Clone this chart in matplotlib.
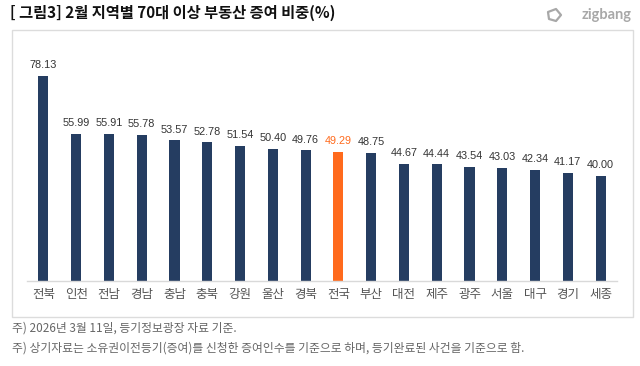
import matplotlib
matplotlib.use("Agg")
import matplotlib.pyplot as plt
from matplotlib.patches import Rectangle, Polygon

plt.rcParams['font.family'] = ['Noto Sans CJK KR', 'DejaVu Sans']

regions = ['전북', '인천', '전남', '경남', '충남', '충북', '강원', '울산', '경북',
           '전국', '부산', '대전', '제주', '광주', '서울', '대구', '경기', '세종']
shares = [78.13, 55.99, 55.91, 55.78, 53.57, 52.78, 51.54, 50.40, 49.76,
          49.29, 48.75, 44.67, 44.44, 43.54, 43.03, 42.34, 41.17, 40.00]
highlight = '전국'

navy = '#253d61'
orange = '#ff6a1c'

W, H = 640, 366
fig = plt.figure(figsize=(W / 100, H / 100), dpi=100)

# outer frame of the chart
fig.patches.append(Rectangle((12 / W, 1 - 317 / H), 621 / W, 287 / H,
                             transform=fig.transFigure, fill=False,
                             edgecolor='#dcdcdc', linewidth=1))

ax = fig.add_axes([27 / W, 85 / H, 590 / W, 241 / H])
colors = [orange if r == highlight else navy for r in regions]
bars = ax.bar(range(len(regions)), shares, width=0.31, color=colors)
ax.set_xlim(-0.5, len(regions) - 0.5)
ax.set_ylim(0, 241 / 2.625)

for i, (b, v) in enumerate(zip(bars, shares)):
    ax.text(b.get_x() + b.get_width() / 2, v + 2.2, f'{v:.2f}',
            ha='center', va='bottom', fontsize=7.8,
            family=['Liberation Sans', 'DejaVu Sans'],
            color=orange if regions[i] == highlight else '#333333')

ax.set_xticks(range(len(regions)))
ax.set_xticklabels(regions, fontsize=9, color='#555555')
ax.tick_params(axis='x', length=0, pad=5)
ax.set_yticks([])
for s in ['top', 'right', 'left']:
    ax.spines[s].set_visible(False)
ax.spines['bottom'].set_color('#d9d9d9')
ax.spines['bottom'].set_linewidth(1)

fig.text(10 / W, 1 - 13 / H, '[ 그림3] 2월 지역별 70대 이상 부동산 증여 비중(%)',
         fontsize=11, fontweight='bold', color='#111111', va='center')

# zigbang logo
fig.text(632 / W, 1 - 15 / H, 'zigbang', fontsize=10.5, color='#a8a8a8',
         fontweight='bold', ha='right', va='center', family=['Lato', 'DejaVu Sans'])
icon = [(548, 12), (556, 9), (561, 15), (556, 21), (549, 19)]
fig.patches.append(Polygon([(x / W, 1 - y / H) for x, y in icon], closed=True,
                           transform=fig.transFigure, fill=False,
                           edgecolor='#a8a8a8', linewidth=1.6, joinstyle='round'))

fig.text(12 / W, 1 - 328 / H, '주) 2026년 3월 11일, 등기정보광장 자료 기준.',
         fontsize=8.5, color='#666666', va='center')
fig.text(12 / W, 1 - 348 / H,
         '주) 상기자료는 소유권이전등기(증여)를 신청한 증여인수를 기준으로 하며, 등기완료된 사건을 기준으로 함.',
         fontsize=8.5, color='#666666', va='center')

fig.savefig('out.png', dpi=100)
